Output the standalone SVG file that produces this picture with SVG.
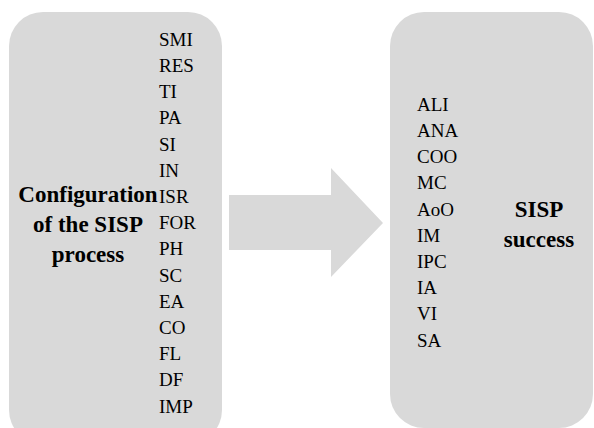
<svg xmlns="http://www.w3.org/2000/svg" width="594" height="428" viewBox="0 0 594 428">
<rect width="594" height="428" fill="#fff"/>
<g id="config" font-family="Liberation Serif" fill="#000">
<rect fill="#d9d9d9" x="9" y="12" width="213" height="432" rx="34" ry="34"/>
<g font-size="23" font-weight="bold" text-anchor="middle">
<text x="88" y="202">Configuration</text>
<text x="88" y="232">of the SISP</text>
<text x="88" y="262">process</text>
</g>
<g font-size="19">
<text x="159" y="45.7">SMI</text>
<text x="159" y="71.9">RES</text>
<text x="159" y="98.1">TI</text>
<text x="159" y="124.3">PA</text>
<text x="159" y="150.5">SI</text>
<text x="159" y="176.7">IN</text>
<text x="159" y="202.9">ISR</text>
<text x="159" y="229.1">FOR</text>
<text x="159" y="255.3">PH</text>
<text x="159" y="281.5">SC</text>
<text x="159" y="307.7">EA</text>
<text x="159" y="333.9">CO</text>
<text x="159" y="360.1">FL</text>
<text x="159" y="386.3">DF</text>
<text x="159" y="412.5">IMP</text>
</g>
</g>
<g id="connectors">
<polygon fill="#d9d9d9" points="229,195 331,195 331,168 383,223 331,277 331,250 229,250"/>
</g>
<g id="success" font-family="Liberation Serif" fill="#000">
<rect fill="#d9d9d9" x="390" y="12" width="203" height="416" rx="34" ry="34"/>
<g font-size="19">
<text x="417" y="110.7">ALI</text>
<text x="417" y="136.9">ANA</text>
<text x="417" y="163.1">COO</text>
<text x="417" y="189.3">MC</text>
<text x="417" y="215.5">AoO</text>
<text x="417" y="241.7">IM</text>
<text x="417" y="267.9">IPC</text>
<text x="417" y="294.1">IA</text>
<text x="417" y="320.3">VI</text>
<text x="417" y="346.5">SA</text>
</g>
<g font-size="23" font-weight="bold" text-anchor="middle">
<text x="539" y="216.5">SISP</text>
<text x="539" y="246.5">success</text>
</g>
</g>
</svg>
